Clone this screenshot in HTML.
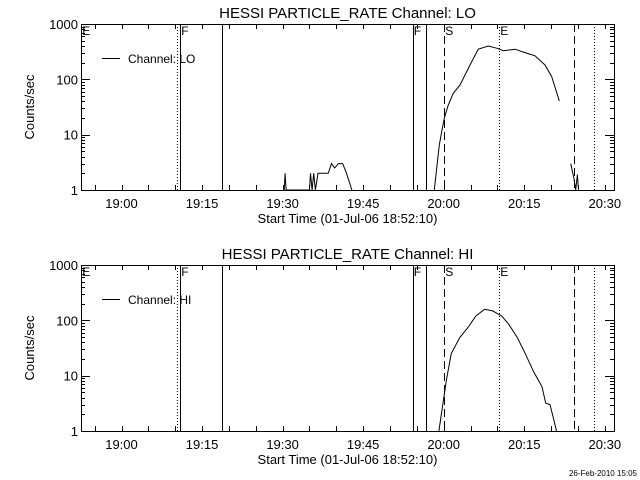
<!DOCTYPE html>
<html><head><meta charset="utf-8"><style>
body{margin:0;background:#fff;}
svg{display:block;font-family:"Liberation Sans",sans-serif;}
</style></head><body>
<svg id="c" width="640" height="480"></svg>
<script>
const tickLabels=["19:00","19:15","19:30","19:45","20:00","20:15","20:30"];
const tickMinutes=[0,15,30,45,60,75,90];
const yTickValues=[1,10,100,1000];
const yTickLabels=["1","10","100","1000"];
const loTimes=[58.25,59.18,59.63,60.11,60.86,61.79,63.04,64.9,66.44,68.3,69.87,71.1,73.28,75.14,77.0,78.86,80.11,81.53];
const loValues=[1,6.5,11.3,19.8,34.5,56,79,182,350,400,366,330,350,304,266,182,112,40.6];
const loBlipTimes=[30.3,30.47,30.65,35.0,35.2,35.5,35.8,36.1,36.6,38.5,39.1,39.7,40.4,41.2,41.9,42.9];
const loBlipValues=[1,2,1,1,2,1,2,1,2,2,3,2.5,3,3,2,1];
const loTailTimes=[83.65,84.26,84.58,84.9,85.1];
const loTailValues=[3,1.6,1,1.9,1];
const hiTimes=[59.1,60.5,61.4,63.0,64.5,66.0,67.6,69.1,70.8,72.1,73.7,75.2,76.7,78.3,79.0,79.8,80.5,81.0];
const hiValues=[1,8.3,25,49,74,120,158,148,120,85,49,25,12,6.3,3.2,3,1.6,1];
const vlineTimes=[10.28,10.95,18.77,54.23,56.76,60.11,70.35,84.32,88.04];
const vlineStyles=["dot","solid","solid","solid","solid","dash","dot","dash","dot"];
const markerTimes=[-7.5,10.95,54.23,60.11,70.35];
const markerLabels=["E","F","F","S","E"];

const NS="http://www.w3.org/2000/svg";
const svg=document.getElementById('c');
const X0=81,X1=614;
function xs(t){return 121.5+t*5.37;}
function mk(tag,attrs,parent){const e=document.createElementNS(NS,tag);for(const k in attrs)e.setAttribute(k,attrs[k]);(parent||svg).appendChild(e);return e;}
function txt(s,x,y,anchor,size,parent){const e=mk('text',{x:x,y:y,'text-anchor':anchor,'font-size':size,fill:'#000'},parent);e.textContent=s;return e;}

function panel(top,name,label){
  const bot=top+166;
  function ys(v){return bot-Math.log10(v)*55.33;}
  const g=mk('g',{});
  
  
  const title=txt('HESSI PARTICLE_RATE Channel: '+label,(X0+X1)/2,top-6,'middle',15,g);
  
  
  const frame=mk('rect',{x:X0+0.5,y:top+0.5,width:X1-X0,height:bot-top,fill:'none',stroke:'#000','stroke-width':1},g);
  
  
  for(let m=-10;m<=100;m+=5){const x=Math.round(xs(m))+0.5;if(x<X0||x>X1)continue;const L=5;
    mk('line',{x1:x,y1:bot,x2:x,y2:bot-L,stroke:'#000'},g);mk('line',{x1:x,y1:top,x2:x,y2:top+L,stroke:'#000'},g);}
  tickMinutes.forEach((m,i)=>{const t=txt(tickLabels[i],xs(m),bot+18,'middle',13,g);
    
    });
  const xt=txt('Start Time (01-Jul-06 18:52:10)',(X0+X1)/2,bot+33,'middle',13,g);
  
  
  for(let d=0;d<3;d++)for(let k=1;k<10;k++){const y=Math.round(ys(k*Math.pow(10,d)))+0.5;const L=k===1?9:4;
    mk('line',{x1:X0,y1:y,x2:X0+L,y2:y,stroke:'#000'},g);mk('line',{x1:X1,y1:y,x2:X1-L,y2:y,stroke:'#000'},g);}
  yTickValues.forEach((v,i)=>{const t=txt(yTickLabels[i],X0-3,ys(v)+5,'end',13,g);
    
    });
  const yt=txt('Counts/sec',0,0,'middle',13,g);
  yt.setAttribute('transform','translate(34,'+((top+bot)/2)+') rotate(-90)');
  
  
  vlineTimes.forEach((t,i)=>{const x=Math.round(xs(t))+0.5;const st=vlineStyles[i];
    const l=mk('line',{x1:x,y1:top,x2:x,y2:bot,stroke:'#000','stroke-width':1,'stroke-dasharray':st==='dot'?'1,2':st==='dash'?'8,4':'none'},g);
    
    });
  markerLabels.forEach((s,i)=>{const t=txt(s,xs(markerTimes[i])+1,top+11,'start',12,g);
    
    });
  const lg=mk('g',{},g);
  
  
  mk('line',{x1:102,y1:top+34.5,x2:120,y2:top+34.5,stroke:'#000'},lg);
  txt('Channel: '+label,128,top+39,'start',12,lg);
  return {g:g,ys:ys};
}
function series(p,times,vals,name){
  const pts=times.map((t,i)=>xs(t).toFixed(1)+','+p.ys(vals[i]).toFixed(1)).join(' ');
  const l=mk('polyline',{points:pts,fill:'none',stroke:'#000','stroke-width':1},p.g);
  
  
}
const p1=panel(24,'lo','LO');
series(p1,loTimes,loValues,'lo-rate-line');
series(p1,loBlipTimes,loBlipValues,'lo-rate-early-line');
series(p1,loTailTimes,loTailValues,'lo-rate-tail-line');
const p2=panel(265,'hi','HI');
series(p2,hiTimes,hiValues,'hi-rate-line');
const d=txt('26-Feb-2010 15:05',637,476,'end',8);


</script>
</body></html>
